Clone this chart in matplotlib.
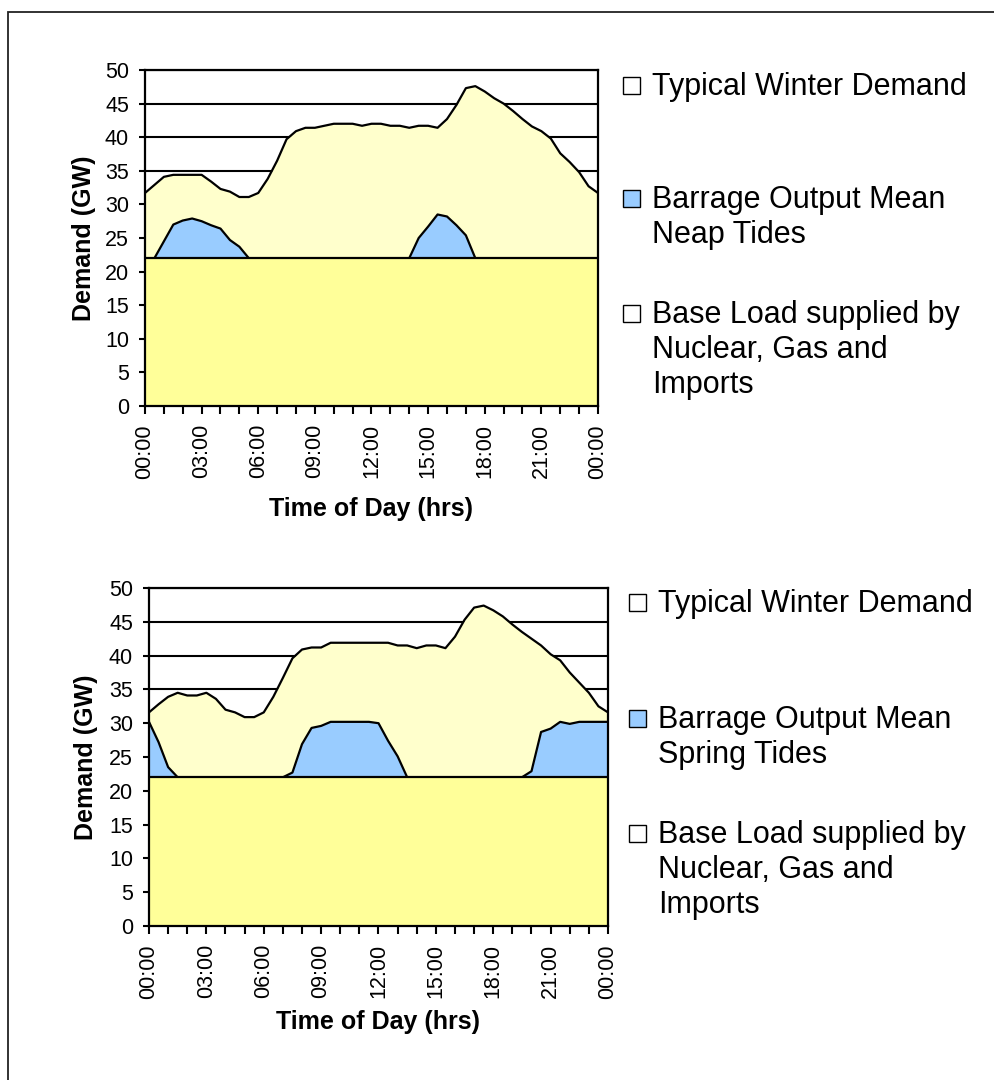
import matplotlib.pyplot as plt
import numpy as np
from matplotlib.patches import Rectangle

plt.rcParams['font.family'] = ['Liberation Sans', 'DejaVu Sans']

# half-hourly readings from 00:00 to 24:00 (GW)
hours = np.arange(49) * 0.5
base_load = 22.0

demand_neap = [31.7, 32.9, 34.1, 34.4, 34.4, 34.4, 34.4, 33.4, 32.3, 31.9,
               31.1, 31.1, 31.7, 33.8, 36.5, 39.7, 40.9, 41.4, 41.4, 41.7,
               42.0, 42.0, 42.0, 41.7, 42.0, 42.0, 41.7, 41.7, 41.4, 41.7,
               41.7, 41.4, 42.7, 44.8, 47.3, 47.6, 46.8, 45.8, 45.0, 43.9,
               42.7, 41.6, 40.9, 39.8, 37.6, 36.3, 34.8, 32.7, 31.7]
# barrage output on top of the base load (GW)
barrage_neap = [0, 0, 2.5, 5.0, 5.6, 5.9, 5.5, 4.9, 4.4, 2.7,
                1.7, 0, 0, 0, 0, 0, 0, 0, 0, 0,
                0, 0, 0, 0, 0, 0, 0, 0, 0, 3.0,
                4.7, 6.5, 6.2, 4.9, 3.4, 0, 0, 0, 0, 0,
                0, 0, 0, 0, 0, 0, 0, 0, 0]

demand_spring = [31.6, 32.8, 33.9, 34.5, 34.1, 34.1, 34.5, 33.6, 32.0, 31.6,
                 30.9, 30.9, 31.6, 33.9, 36.7, 39.6, 40.9, 41.2, 41.2, 41.9,
                 41.9, 41.9, 41.9, 41.9, 41.9, 41.9, 41.5, 41.5, 41.1, 41.5,
                 41.5, 41.1, 42.8, 45.3, 47.1, 47.4, 46.7, 45.8, 44.6, 43.5,
                 42.5, 41.5, 40.2, 39.3, 37.5, 36.0, 34.5, 32.5, 31.6]
barrage_spring = [8.2, 5.2, 1.5, 0, 0, 0, 0, 0, 0, 0,
                  0, 0, 0, 0, 0, 0.7, 4.9, 7.3, 7.6, 8.2,
                  8.2, 8.2, 8.2, 8.2, 8.0, 5.4, 3.1, 0, 0, 0,
                  0, 0, 0, 0, 0, 0, 0, 0, 0, 0,
                  0.9, 6.7, 7.2, 8.2, 7.9, 8.2, 8.2, 8.2, 8.2]

hour_ticks = list(range(25))
hour_labels = ['%02d:00' % (h % 24) if h % 3 == 0 else '' for h in hour_ticks]
y_ticks = list(range(0, 51, 5))

legend_neap = [['Typical Winter Demand'],
               ['Barrage Output Mean', 'Neap Tides'],
               ['Base Load supplied by', 'Nuclear, Gas and', 'Imports']]
legend_spring = [['Typical Winter Demand'],
                 ['Barrage Output Mean', 'Spring Tides'],
                 ['Base Load supplied by', 'Nuclear, Gas and', 'Imports']]

c_demand = '#FFFFCC'
c_barrage = '#99CCFF'
c_base = '#FFFF99'
W, H = 995, 1080


def fx(x):
    return x / W


def fy(y):
    return 1 - y / H


def draw_panel(ax, demand, barrage, xlabel_y, ylabel_x):
    ax.set_axisbelow(True)
    ax.yaxis.grid(True, color='black', lw=1.5)
    ax.fill_between(hours, 0, demand, color=c_demand, lw=0, zorder=1)
    ax.plot(hours, demand, color='black', lw=1.6, zorder=2)
    top = base_load + np.array(barrage)
    ax.fill_between(hours, base_load, top, color=c_barrage, lw=0, zorder=3)
    ax.plot(hours, top, color='black', lw=1.6, zorder=4)
    ax.fill_between(hours, 0, base_load, color=c_base, lw=0, zorder=5)
    ax.axhline(base_load, color='black', lw=1.6, zorder=6)

    ax.set_xlim(0, 24)
    ax.set_ylim(0, 50)
    ax.set_xticks(hour_ticks)
    ax.set_xticklabels(hour_labels, rotation=90)
    ax.set_yticks(y_ticks)
    ax.tick_params(axis='y', direction='out', length=4.5, width=1.5,
                   pad=7, labelsize=15.5)
    ax.tick_params(axis='x', direction='out', length=6, width=1.5,
                   pad=7, labelsize=15.5)
    for s in ax.spines.values():
        s.set_color('black')
        s.set_linewidth(1.6)
        s.set_zorder(10)

    ax.set_xlabel('Time of Day (hrs)', fontsize=18, fontweight='bold')
    ax.set_ylabel('Demand (GW)', fontsize=18, fontweight='bold')
    ax.xaxis.set_label_coords(0.5, xlabel_y)
    ax.yaxis.set_label_coords(ylabel_x, 0.5)


def draw_legend(entries, box_x, text_x, baselines):
    colors = ['white', c_barrage, 'white']
    for lines, base, col in zip(entries, baselines, colors):
        fig.add_artist(Rectangle((fx(box_x), fy(base - 1)), 17 / W, 17 / H,
                                 facecolor=col, edgecolor='black', lw=1.0,
                                 transform=fig.transFigure))
        for k, line in enumerate(lines):
            fig.text(fx(text_x), fy(base + 35 * k), line, fontsize=22,
                     ha='left', va='baseline')


fig = plt.figure(figsize=(W / 100, H / 100), dpi=100)
fig.patch.set_facecolor('white')

ax1 = fig.add_axes([fx(145), fy(406), (598 - 145) / W, (406 - 70) / H])
draw_panel(ax1, demand_neap, barrage_neap, -0.27, -0.108)

ax2 = fig.add_axes([fx(149), fy(926), (608 - 149) / W, (926 - 588) / H])
draw_panel(ax2, demand_spring, barrage_spring, -0.25, -0.112)

draw_legend(legend_neap, 623, 652, [95, 208, 323])
draw_legend(legend_spring, 629, 658, [612, 728, 843])

# outer frame (cropped at the right and bottom edges)
fig.add_artist(Rectangle((fx(8), -0.1), 1.2, fy(12) + 0.1, fill=False,
                         edgecolor='#222222', lw=1.3,
                         transform=fig.transFigure, clip_on=False))

fig.savefig('out.png', dpi=100)
